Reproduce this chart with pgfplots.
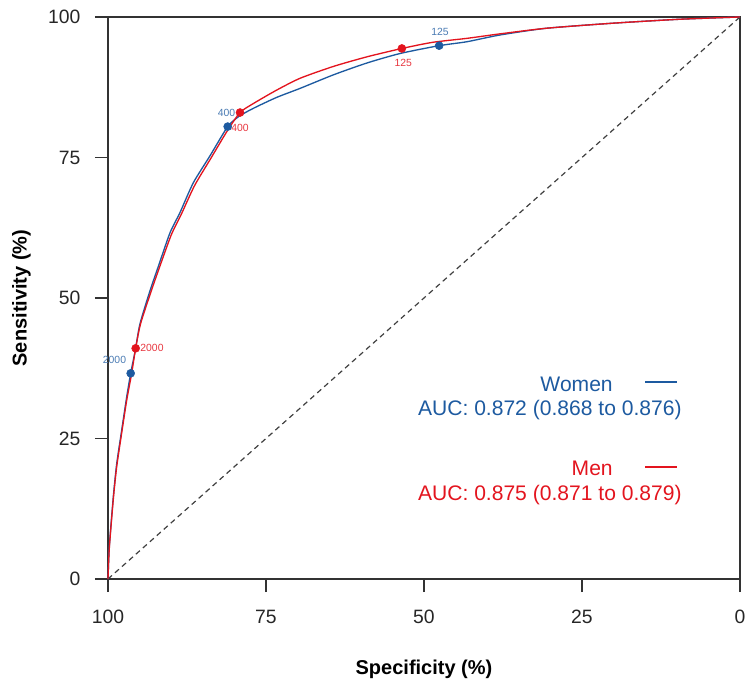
\documentclass[border=0pt]{standalone}
\usepackage{fontspec}
\setmainfont{Liberation Sans}
\usepackage{pgfplots}
\pgfplotsset{compat=1.18}
\usetikzlibrary{calc}
\definecolor{rocblue}{HTML}{1D5AA0}
\definecolor{rocred}{HTML}{E3141E}

\begin{document}
\begin{tikzpicture}
\begin{axis}[
    scale only axis,
    width=474pt, height=421.5pt,
    x dir=reverse,
    xmin=0, xmax=100, ymin=0, ymax=100,
    xtick={0,25,50,75,100}, ytick={0,25,50,75,100},
    xtick pos=bottom, ytick pos=left,
    tick align=outside, major tick length=9.75pt,
    axis line style={black!80, line width=0.9pt},
    tick style={black!80, line width=0.9pt},
    ticklabel style={font=\fontsize{14.5}{16}\selectfont, text=black!85},
    xticklabel style={yshift=-10pt},
    yticklabel style={xshift=-7.5pt},
    /pgf/number format/assume math mode=true,
    xlabel={\bfseries Specificity (\%)},
    ylabel={\bfseries Sensitivity (\%)},
    label style={font=\fontsize{15}{17}\selectfont},
    xlabel style={yshift=-20pt},
    ylabel style={yshift=6pt},
    clip=false,
]
% chance line
\addplot[black!75, line width=0.9pt, dash pattern=on 4pt off 3pt] coordinates {(100,0) (0,100)};
% Women
\addplot[rocblue, line width=1pt, smooth, tension=0.4] coordinates {
(100,0) (99.79,5.75) (99.16,14.6) (98.62,20.5) (97.83,26.5) (97.04,32.4)
(96.41,36.6) (95.7,40.6) (94.94,45.4) (93.35,51.3) (92.04,55.6) (90.19,61.6)
(88.61,65.2) (86.5,70.5) (83.86,75.3) (81.06,80.5) (79.3,82.3) (77.0,83.75)
(73.3,85.7) (69.6,87.3) (64.35,89.7) (59.07,91.8) (53.8,93.5) (47.6,94.9)
(43.2,95.6) (37.97,96.8) (30.6,98.0) (20.05,98.9) (9.5,99.6) (0,100)};
% Men
\addplot[rocred, line width=1pt, smooth, tension=0.4] coordinates {
(100,0) (99.79,5.5) (99.16,14.2) (98.62,20.0) (97.83,26.0) (97.04,31.8)
(96.3,36.3) (95.62,41.05) (94.85,45.4) (93.2,51.1) (91.9,55.3) (90.0,61.2)
(88.4,64.9) (86.3,70.0) (83.7,74.9) (81.2,79.6) (79.11,83.0) (77.0,84.6)
(73.3,87.0) (69.6,89.1) (64.35,91.2) (59.07,92.9) (53.5,94.4) (48.6,95.5)
(43.2,96.2) (37.97,97.0) (30.6,98.0) (20.05,98.9) (9.5,99.6) (0,100)};
% thresholds
\addplot[only marks, mark=*, mark size=3pt, rocblue] coordinates {(96.41,36.6) (81.06,80.5) (47.6,94.9)};
\addplot[only marks, mark=*, mark size=3pt, rocred] coordinates {(95.62,41.05) (79.11,83.0) (53.5,94.4)};

\begin{scope}[font=\fontsize{7.8}{8}\selectfont, inner sep=0pt]
\node[rocblue!80] at (axis cs:98.97,38.97) {2000};
\node[rocred!85] at (axis cs:93.04,41.05) {2000};
\node[rocblue!80] at (axis cs:81.25,82.9) {400};
\node[rocred!85] at (axis cs:79.1,80.3) {400};
\node[rocblue!80] at (axis cs:47.47,97.3) {125};
\node[rocred!85] at (axis cs:53.28,91.76) {125};
\end{scope}

% legend
\begin{scope}[font=\fontsize{15.8}{18}\selectfont, inner sep=0pt]
\node[rocblue, anchor=east] at (axis cs:20.1,34.7) {Women};
\node[rocblue, anchor=east] at (axis cs:9.2,30.1) {AUC: 0.872 (0.868 to 0.876)};
\node[rocred, anchor=east] at (axis cs:20.1,19.75) {Men};
\node[rocred, anchor=east] at (axis cs:9.2,14.9) {AUC: 0.875 (0.871 to 0.879)};
\end{scope}
\draw[rocblue, line width=1pt] (axis cs:15.0,35.05) -- (axis cs:9.97,35.05);
\draw[rocred, line width=1pt] (axis cs:15.0,19.9) -- (axis cs:9.97,19.9);

\coordinate (sw) at (rel axis cs:0,0);
\coordinate (ne) at (rel axis cs:1,1);
\end{axis}
\pgfresetboundingbox
\path[use as bounding box] ($(sw)+(-81pt,-76.5pt)$) rectangle ($(ne)+(3.75pt,12.75pt)$);
\end{tikzpicture}
\end{document}
